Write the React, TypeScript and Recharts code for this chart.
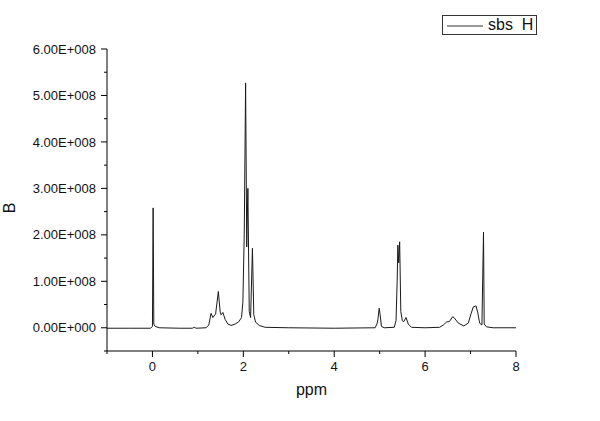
import React from 'react';
import { LineChart, Line, XAxis, YAxis, Legend, Label } from 'recharts';

// --- spectrum (intensity in units of 1E+008) ---
const ppm = [
  -1.0, -0.5, -0.04, 0.0, 0.015, 0.03, 0.06, 0.15, 0.6, 0.88, 0.92, 0.96,
  1.18, 1.24, 1.29, 1.33, 1.39, 1.45, 1.49, 1.51, 1.55, 1.6, 1.66, 1.73,
  1.82, 1.9, 1.96, 1.99, 2.02, 2.05, 2.075, 2.1, 2.13, 2.16, 2.2, 2.23,
  2.27, 2.35, 2.48, 3.0, 4.0, 4.9, 4.94, 4.96, 4.99, 5.01, 5.04, 5.1,
  5.32, 5.36, 5.385, 5.4, 5.42, 5.44, 5.465, 5.5, 5.53, 5.58, 5.63, 5.7,
  6.0, 6.32, 6.4, 6.48, 6.53, 6.61, 6.66, 6.73, 6.85, 6.95, 7.01, 7.06,
  7.12, 7.16, 7.2, 7.25, 7.285, 7.3, 7.35, 7.5, 8.0,
];
const intensity = [
  -0.01, -0.01, -0.01, 0.03, 2.58, 0.08, 0.03, 0.0, -0.01, -0.01, 0.01, -0.01,
  0.0, 0.06, 0.31, 0.22, 0.3, 0.78, 0.34, 0.28, 0.33, 0.18, 0.08, 0.05,
  0.08, 0.13, 0.22, 0.55, 2.0, 5.27, 1.74, 3.0, 0.35, 0.22, 1.71, 0.28,
  0.12, 0.05, 0.01, 0.0, -0.01, 0.0, 0.08, 0.17, 0.42, 0.28, 0.03, 0.0,
  0.01, 0.15, 1.0, 1.78, 1.4, 1.85, 0.35, 0.15, 0.13, 0.22, 0.08, 0.01,
  0.0, 0.01, 0.06, 0.13, 0.13, 0.24, 0.19, 0.1, 0.04, 0.1, 0.3, 0.45,
  0.47, 0.32, 0.1, 0.06, 2.06, 0.08, 0.02, 0.0, 0.0,
];

const xTicks = [-1, 0, 1, 2, 3, 4, 5, 6, 7, 8];
const xMajor = [0, 2, 4, 6, 8];
const yTicks = [-0.5, 0, 0.5, 1, 1.5, 2, 2.5, 3, 3.5, 4, 4.5, 5, 5.5, 6];
const yMajor = [0, 1, 2, 3, 4, 5, 6];

const seriesName = 'sbs  H';

const data = ppm.map((p, i) => ({ ppm: p, B: intensity[i] }));

const FONT = 'Arial, "Liberation Sans", sans-serif';

const fmtY = (v: number) => (v === 0 ? '0.00E+000' : `${v.toFixed(2)}E+008`);

const XTick = (props: any) => {
  const { x, y, payload } = props;
  const major = xMajor.includes(payload.value);
  return (
    <g>
      <line x1={x} x2={x} y1={y} y2={y + (major ? 6 : 3)} stroke="#000" />
      {major && (
        <text x={x} y={y + 11} dy="0.71em" textAnchor="middle" fontSize={13} fontFamily={FONT} fill="#111">
          {payload.value}
        </text>
      )}
    </g>
  );
};

const YTick = (props: any) => {
  const { x, y, payload } = props;
  const major = yMajor.includes(payload.value);
  return (
    <g>
      <line x1={x} x2={x - (major ? 6 : 3)} y1={y} y2={y} stroke="#000" />
      {major && (
        <text x={x - 11} y={y} dy="0.355em" textAnchor="end" fontSize={13} fontFamily={FONT} fill="#111">
          {fmtY(payload.value)}
        </text>
      )}
    </g>
  );
};

const LegendBox = () => (
  <div
    style={{
      border: '1px solid #333',
      width: 93,
      height: 18,
      display: 'flex',
      alignItems: 'center',
      background: '#fff',
      fontFamily: FONT,
    }}
  >
    <svg width={41} height={18} style={{ flex: 'none' }}>
      <line x1={4} x2={40} y1={10} y2={10} stroke="#333" />
    </svg>
    <span style={{ fontSize: 16, marginLeft: 4, whiteSpace: 'pre', color: '#111', lineHeight: '18px' }}>{seriesName}</span>
  </div>
);

const App: React.FC = () => (
  <div style={{ position: 'absolute', left: 0, top: 0, width: 600, height: 421, background: '#fff' }}>
    <LineChart width={600} height={421} data={data} margin={{ top: 49, right: 84, left: 0, bottom: 0 }}>
      <XAxis
        dataKey="ppm"
        type="number"
        domain={[-1, 8]}
        ticks={xTicks}
        interval={0}
        height={70}
        tickSize={0}
        tickMargin={0}
        tickLine={false}
        axisLine={{ stroke: '#000' }}
        tick={<XTick />}
        allowDataOverflow
      >
        <Label value="ppm" position="insideBottom" offset={26} fontSize={16} fontFamily={FONT} fill="#111" />
      </XAxis>
      <YAxis
        type="number"
        domain={[-0.5, 6]}
        ticks={yTicks}
        interval={0}
        width={107}
        tickSize={0}
        tickMargin={0}
        tickLine={false}
        axisLine={{ stroke: '#000' }}
        tick={<YTick />}
        allowDataOverflow
      >
        <Label
          content={(p: any) => {
            const vb = p.viewBox || { x: 0, y: 49, height: 302 };
            const cx = vb.x + 15;
            const cy = vb.y + vb.height / 2 + 8;
            return (
              <text x={cx} y={cy} transform={`rotate(-90 ${cx} ${cy})`} textAnchor="middle" fontSize={16} fontFamily={FONT} fill="#111">
                B
              </text>
            );
          }}
        />
      </YAxis>
      <Legend
        layout="horizontal"
        verticalAlign="middle"
        align="center"
        wrapperStyle={{ left: 442, top: 15, width: 95 }}
        content={<LegendBox />}
      />
      <Line
        type="linear"
        dataKey="B"
        name={seriesName}
        stroke="#1a1a1a"
        strokeWidth={1}
        dot={false}
        activeDot={false}
        isAnimationActive={false}
      />
    </LineChart>
  </div>
);

export default App;
